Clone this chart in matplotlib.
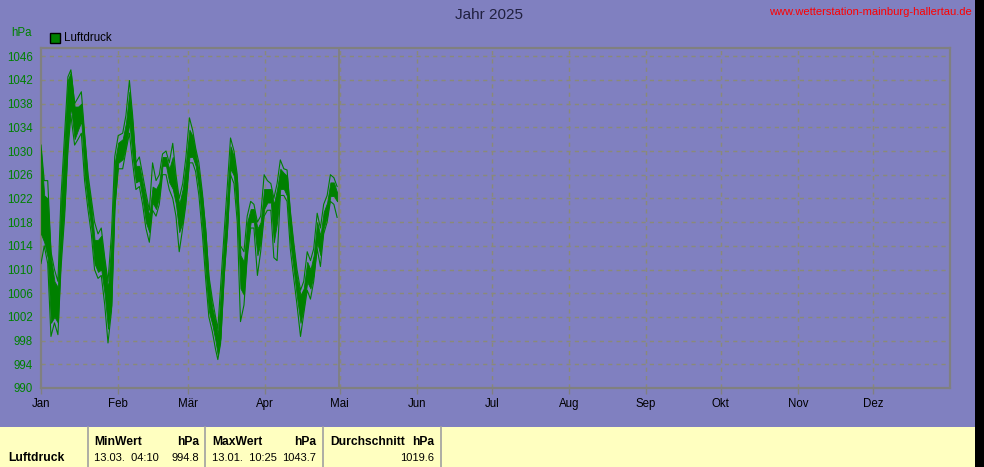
import matplotlib
matplotlib.use("Agg")
import matplotlib.pyplot as plt
from matplotlib.patches import Rectangle
from matplotlib.lines import Line2D

plt.rcParams['font.family'] = ['Liberation Sans', 'DejaVu Sans']

# ---------------- data ----------------
months = ["Jan", "Feb", "Mär", "Apr", "Mai", "Jun", "Jul", "Aug", "Sep", "Okt", "Nov", "Dez"]
month_len = [31, 28, 31, 30, 31, 30, 31, 31, 30, 31, 30, 31]
yticks = [990, 994, 998, 1002, 1006, 1010, 1014, 1018, 1022, 1026, 1030, 1034, 1038, 1042, 1046]

# day of year (fractional) of readings
days = [0.0, 1.3, 2.7, 4.0, 5.4, 6.8, 8.0, 9.5, 10.8, 12.0, 13.5, 14.9, 16.2, 17.5, 18.9,
        20.2, 21.5, 22.9, 24.2, 25.6, 26.9, 28.3, 29.6, 31.0, 32.8, 34.1, 35.5, 36.8, 38.1,
        39.5, 40.8, 42.1, 43.5, 44.8, 46.2, 47.5, 48.8, 50.2, 51.5, 52.9, 54.2, 55.5, 56.9,
        58.2, 59.6, 60.9, 62.1, 63.4, 64.8, 66.1, 67.4, 68.8, 70.1, 71.0, 72.1, 73.5, 74.8,
        76.1, 77.5, 78.8, 80.1, 81.5, 82.8, 84.2, 85.5, 86.9, 88.2, 89.6, 90.9, 92.3, 93.5,
        94.8, 96.1, 97.5, 98.8, 100.1, 101.5, 102.8, 104.2, 105.5, 106.9, 108.2, 109.5,
        110.9, 112.2, 113.5, 114.9, 116.2, 117.6, 118.9]
# core band (lower / upper) of the pressure trace, hPa
core_lo = [1016, 1014.6, 1012, 1001, 1002, 1001, 1012.4, 1021, 1032, 1037.5, 1032, 1033.6,
           1035, 1026, 1021, 1017, 1011, 1009.6, 1010, 1005.7, 1000, 1004, 1021, 1028,
           1028.6, 1030.8, 1034.7, 1029, 1024.7, 1025, 1021.9, 1018, 1016.3, 1021.3, 1020.2,
           1022.4, 1027.5, 1027.5, 1024.7, 1023.6, 1021, 1016.3, 1018, 1022.4, 1029, 1029,
           1027.5, 1023.6, 1017, 1009.6, 1003, 1000.7, 997.9, 995.5, 998.4, 1009.6, 1017,
           1027, 1025.8, 1019, 1006.8, 1005.7, 1013.5, 1018, 1018, 1012.4, 1014.6, 1020.2,
           1021.3, 1021.3, 1014.6, 1018, 1023.6, 1023.6, 1022.4, 1014.6, 1009.8, 1005.3,
           1001, 1003.5, 1007.9, 1006.8, 1009, 1014.6, 1012.4, 1017, 1019, 1022.4, 1022.4,
           1021.5]
core_hi = [1030, 1022.5, 1022, 1012, 1008, 1007, 1021, 1032, 1042, 1043.3, 1037.5, 1037.5,
           1038, 1032, 1024.7, 1020.8, 1015, 1015, 1015.7, 1011, 1006.8, 1015, 1028, 1031.4,
           1032, 1034.7, 1040, 1034.7, 1027.5, 1027.5, 1024.7, 1022, 1019, 1024, 1023.6,
           1024.7, 1029, 1029, 1027, 1029, 1024.7, 1021, 1023.6, 1028, 1033.6, 1032.5,
           1029.7, 1026.3, 1022, 1016.3, 1008, 1003.5, 1001.2, 999, 1005.7, 1015, 1022.4,
           1030.8, 1029, 1024.7, 1012.4, 1011.3, 1018, 1020.2, 1020.2, 1016.9, 1018, 1023.6,
           1023.6, 1023.6, 1021, 1023.6, 1027, 1026.3, 1025.8, 1019, 1013.5, 1008.6,
           1005.7, 1006.8, 1011.3, 1010, 1012.4, 1018, 1015.7, 1019.7, 1021.3, 1024.7,
           1024.7, 1023]
# thin outer lines
env_lo = [1011, 1014, 1011, 998.7, 1001, 999, 1010, 1019, 1030, 1036, 1031, 1032, 1033,
          1025, 1020, 1016, 1010, 1008.5, 1009, 1004, 997.6, 1003, 1020, 1027, 1027, 1030,
          1033, 1028, 1023.5, 1024, 1021, 1017, 1014.6, 1020, 1019, 1021, 1026, 1026,
          1023.5, 1022, 1019, 1013, 1017, 1021, 1028, 1028, 1026.5, 1022.5, 1016, 1008.5,
          1002, 999.5, 996.5, 994.8, 997.5, 1008.5, 1016, 1026, 1024.5, 1018, 1001.2, 1004,
          1012, 1017, 1017, 1009, 1013, 1019, 1020, 1020, 1012, 1011.5, 1022.5, 1022.5,
          1021.5, 1013.5, 1008.5, 1004, 998.7, 1002.5, 1006.5, 1005, 1008, 1013.5, 1010.5,
          1016, 1018, 1021.5, 1021, 1018.8]
env_hi = [1031, 1025, 1025, 1013, 1010, 1008, 1022, 1033, 1042.5, 1043.7, 1038, 1039,
          1040, 1033, 1026, 1022, 1018, 1016, 1017, 1012, 1008, 1016, 1029, 1032.6, 1033,
          1036, 1041.9, 1036, 1028, 1029, 1026, 1023, 1020, 1028, 1025, 1026, 1029.5, 1030,
          1028, 1031.3, 1026, 1022, 1024.5, 1029, 1035.6, 1033.5, 1030.5, 1028, 1023, 1017,
          1009, 1005, 1002, 1000, 1007, 1016, 1024, 1032.2, 1030, 1026, 1014, 1013, 1019,
          1021.5, 1021, 1018, 1019, 1026, 1025, 1024.5, 1022, 1024.5, 1028.5, 1027, 1026.8,
          1020, 1014.5, 1010, 1006.5, 1008, 1013, 1011.5, 1013.5, 1019.5, 1017, 1021,
          1022.5, 1026, 1025.5, 1024]
today_day = 119.6

series_name = "Luftdruck"
unit = "hPa"
title = "Jahr 2025"
url = "www.wetterstation-mainburg-hallertau.de"
stats_hdr = ["MinWert", "MaxWert", "Durchschnitt"]
stats_time = ["13.03.  04:10", "13.01.  10:25", ""]
stats_val = ["994.8", "1043.7", "1019.6"]

# ---------------- figure ----------------
W, H = 984, 467
BG = "#8080C0"
GREEN = "#008000"
GRID = "#8a8a78"
SPINE = "#808080"
fig = plt.figure(figsize=(W / 100, H / 100), dpi=100, facecolor=BG)

def fx(px):
    return px / W

def fy(py):
    return 1 - py / H

left, right, top, bottom = 41, 950, 48, 388
ax = fig.add_axes([fx(left), fy(bottom), fx(right - left), (bottom - top) / H])
ax.set_facecolor(BG)
ax.set_xlim(0, 365)
ax.set_ylim(990, 990 + (bottom - top) / 5.925)

month_start = [sum(month_len[:i]) for i in range(12)]
for m in month_start[1:]:
    ax.axvline(m, color=GRID, lw=1, dashes=(3, 3), zorder=1)
for yv in yticks[1:]:
    ax.axhline(yv, color=GRID, lw=1, dashes=(3, 3), zorder=1)

ax.axvline(today_day, color=SPINE, lw=1.3, zorder=2)

ax.fill_between(days, core_lo, core_hi, color=GREEN, lw=0.6, zorder=3)
ax.plot(days, env_lo, color=GREEN, lw=0.8, zorder=3)
ax.plot(days, env_hi, color=GREEN, lw=0.8, zorder=3)

for s in ax.spines.values():
    s.set_color(SPINE)
    s.set_linewidth(1.6)

ax.set_xticks(month_start)
ax.set_xticklabels(months, fontsize=8.3, color="black")
ax.tick_params(axis="x", length=4, color=SPINE, width=1, pad=3)
ax.set_yticks(yticks)
ax.set_yticklabels([str(v) for v in yticks], fontsize=8.3, color=GREEN)
ax.tick_params(axis="y", length=0, pad=6)

# title, unit, legend, url
fig.text(fx(489), fy(15), title, ha="center", va="center", fontsize=11, color="#202040")
fig.text(fx(11), fy(33), unit, ha="left", va="center", fontsize=8.3, color=GREEN)
fig.patches.append(Rectangle((fx(50), fy(43)), fx(10), 10 / H, transform=fig.transFigure,
                             facecolor=GREEN, edgecolor="black", lw=1))
fig.text(fx(64), fy(38), series_name, ha="left", va="center", fontsize=8.3, color="black")
fig.text(fx(972), fy(12), url, ha="right", va="center", fontsize=8, color="#FF0000")

# right black strip
fig.patches.append(Rectangle((fx(975), 0), fx(9), 1, transform=fig.transFigure,
                             facecolor="black", edgecolor="none"))

# bottom table
fig.patches.append(Rectangle((0, 0), fx(975), 40 / H, transform=fig.transFigure,
                             facecolor="#FFFFC0", edgecolor="none"))
for sx in [88, 205, 323, 441]:
    fig.add_artist(Line2D([fx(sx), fx(sx)], [0, 40 / H], transform=fig.transFigure,
                          color="#A0A0A0", lw=1.2))
r1, r2 = 442, 458
fig.text(fx(8), fy(r2), series_name, ha="left", va="center", fontsize=8.7, weight="bold")
cols = [(94, 199), (212, 316), (330, 434)]
for (xl, xr), hdr, tm, val in zip(cols, stats_hdr, stats_time, stats_val):
    fig.text(fx(xl), fy(r1), hdr, ha="left", va="center", fontsize=8.7, weight="bold")
    fig.text(fx(xr), fy(r1), unit, ha="right", va="center", fontsize=8.7, weight="bold")
    if tm:
        fig.text(fx(xl), fy(r2), tm, ha="left", va="center", fontsize=8)
    fig.text(fx(xr), fy(r2), val, ha="right", va="center", fontsize=8)

fig.savefig("out.png", dpi=100, facecolor=BG)
